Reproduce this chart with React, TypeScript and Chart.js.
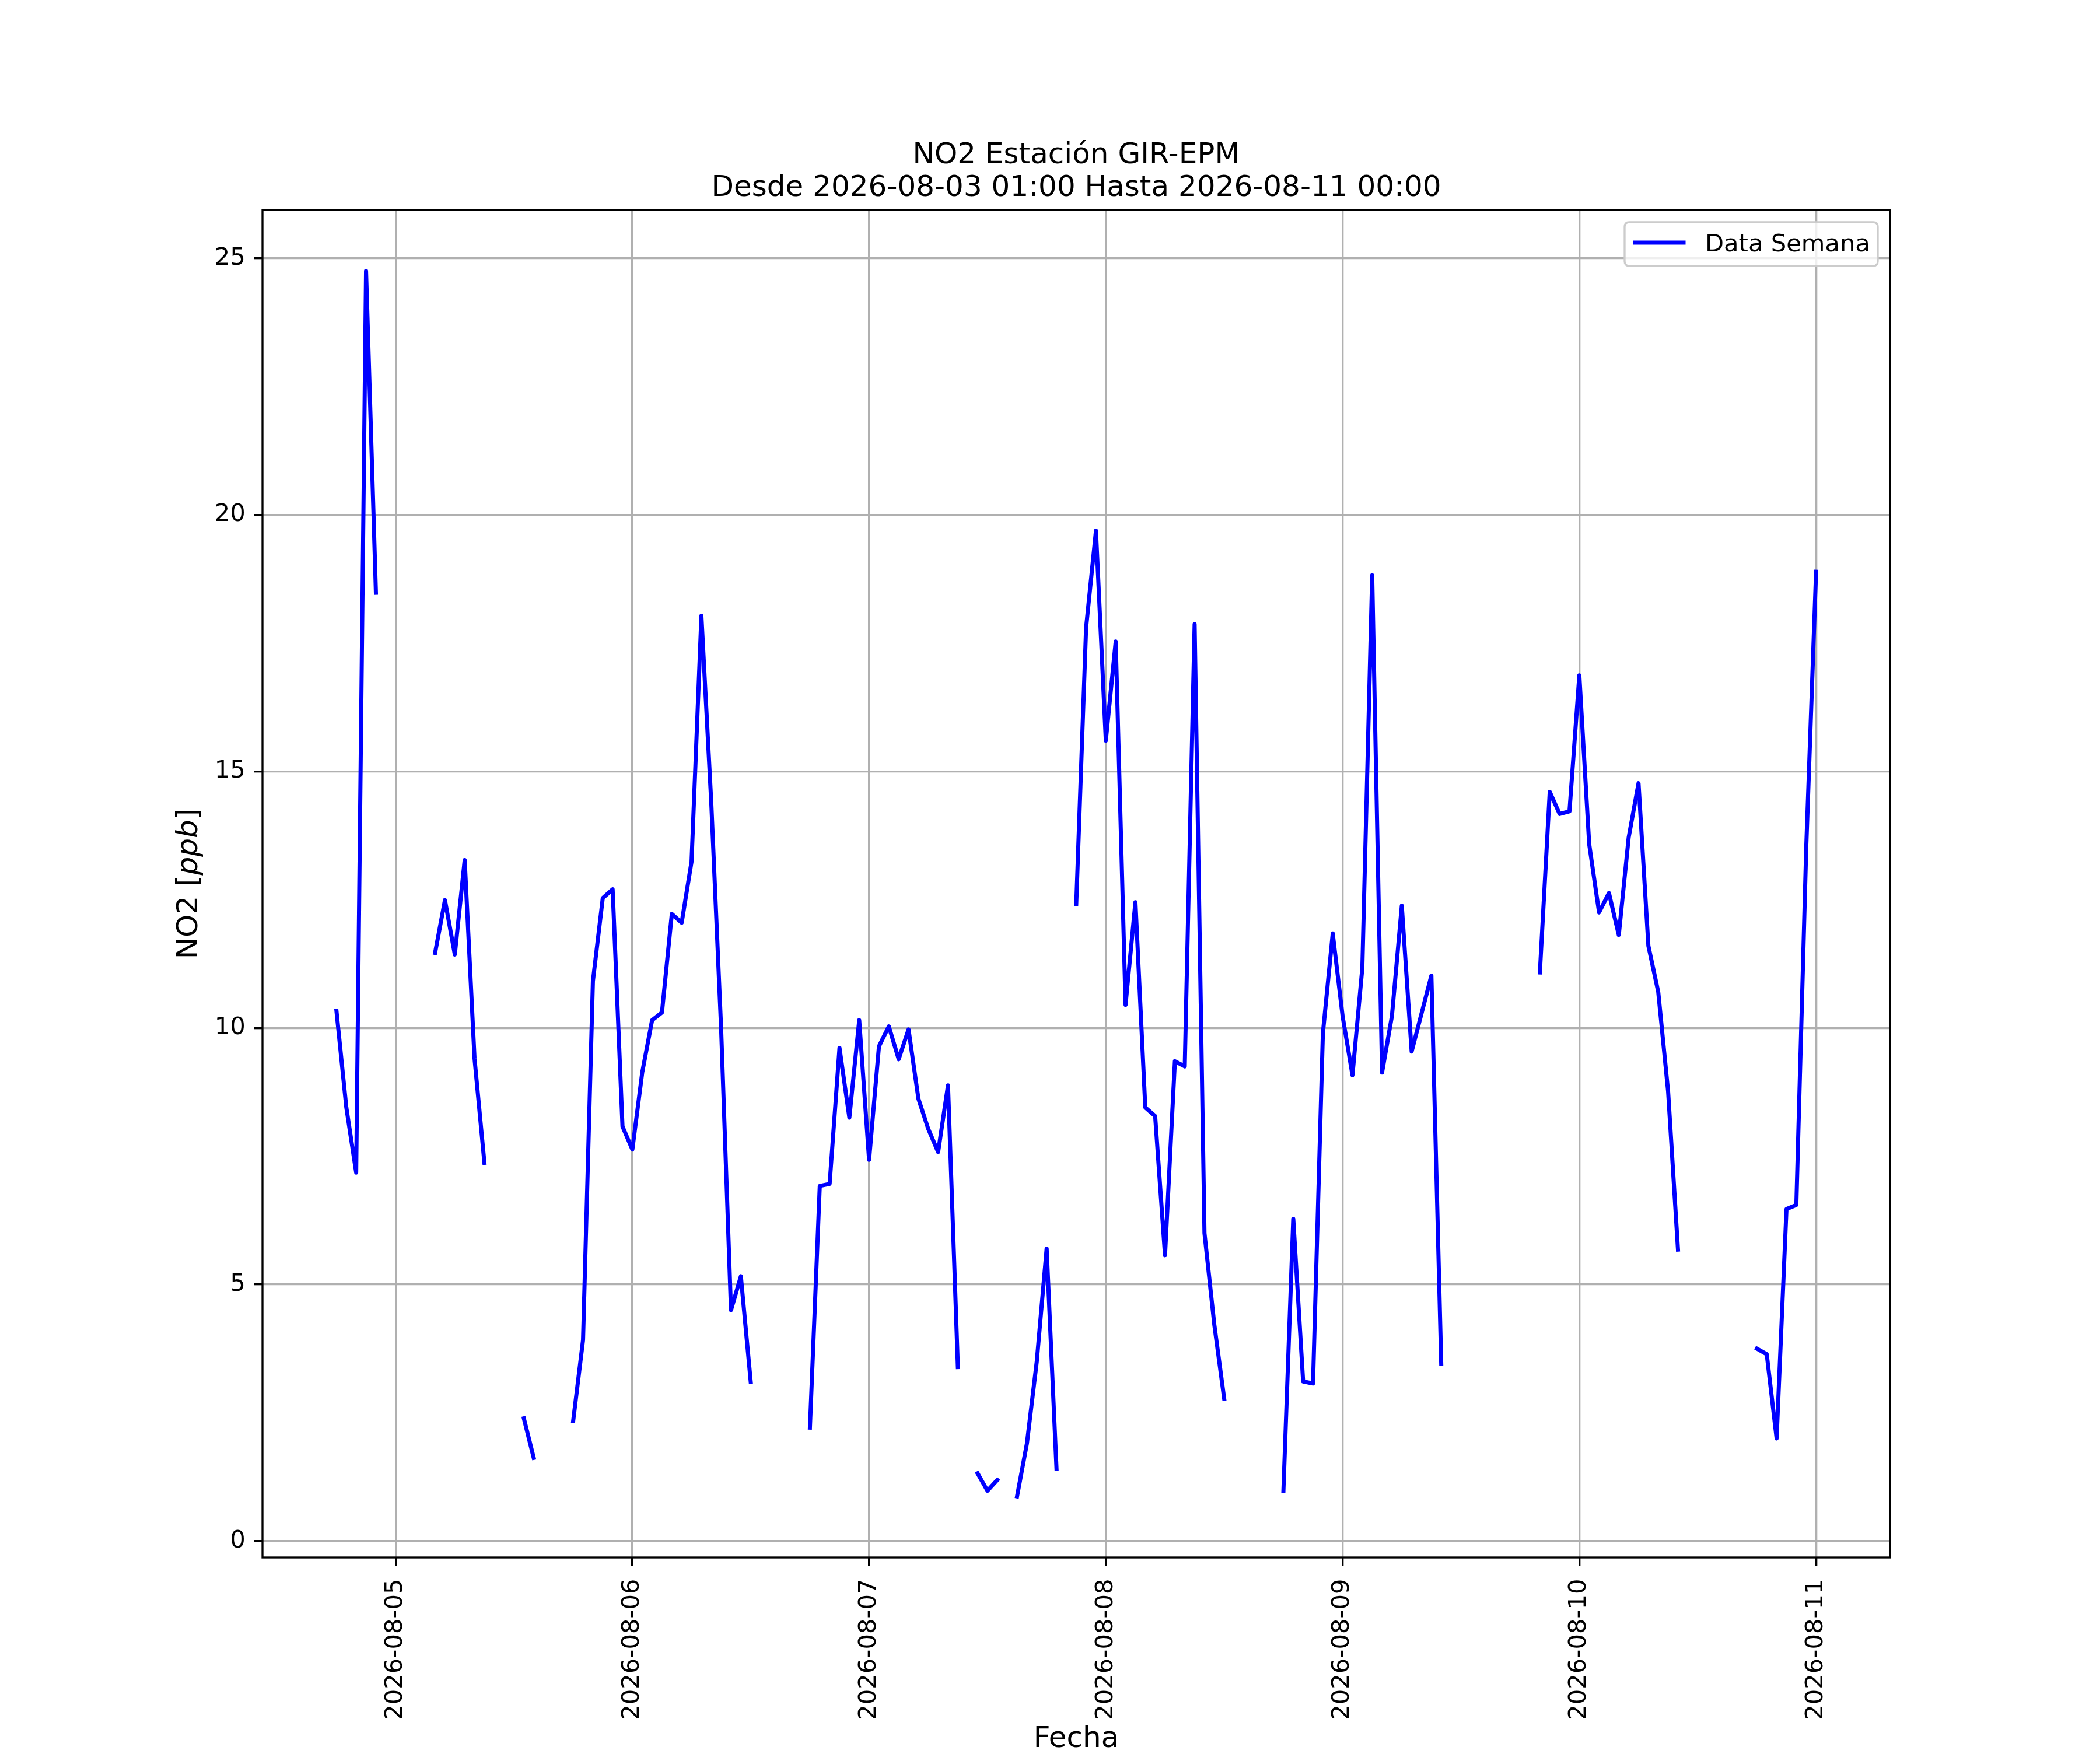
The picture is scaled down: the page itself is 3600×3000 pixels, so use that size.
import React, { useEffect, useRef } from 'react';
import { Chart, registerables } from 'chart.js';

Chart.register(...registerables);

// Hourly NO2 values [ppb] per day (index = hour of day), null = no data
const no2_0804 = [null, null, null, null, null, null, null, null, null, null, null, null, null, null, null, null, null, null, 10.33, 8.45, 7.18, 24.75, 18.48, null];
const no2_0805 = [null, null, null, null, 11.46, 12.49, 11.43, 13.27, 9.4, 7.37, null, null, null, 2.39, 1.62, null, null, null, 2.34, 3.92, 10.91, 12.53, 12.7, 8.08];
const no2_0806 = [7.63, 9.13, 10.15, 10.3, 12.22, 12.05, 13.24, 18.03, 14.39, 9.98, 4.5, 5.16, 3.1, null, null, null, null, null, 2.21, 6.92, 6.96, 9.61, 8.25, 10.15];
const no2_0807 = [7.43, 9.64, 10.03, 9.39, 9.97, 8.62, 8.03, 7.58, 8.88, 3.39, null, 1.32, 0.98, 1.19, null, 0.87, 1.9, 3.5, 5.7, 1.41, null, 12.41, 17.8, 19.69];
const no2_0808 = [15.6, 17.53, 10.45, 12.45, 8.45, 8.28, 5.57, 9.35, 9.25, 17.87, 6.0, 4.21, 2.77, null, null, null, null, null, 0.98, 6.28, 3.11, 3.07, 9.89, 11.84];
const no2_0809 = [10.23, 9.08, 11.17, 18.82, 9.13, 10.23, 12.38, 9.54, 10.28, 11.02, 3.45, null, null, null, null, null, null, null, null, null, 11.08, 14.6, 14.17, 14.22];
const no2_0810 = [16.87, 13.58, 12.25, 12.63, 11.81, 13.71, 14.77, 11.6, 10.7, 8.76, 5.68, null, null, null, null, null, null, null, 3.75, 3.64, 2.0, 6.47, 6.55, 13.5];
const no2_0811 = [18.89];

// Day start offsets in hours since 2026-08-03 00:00
const dayOffsets = [24, 48, 72, 96, 120, 144, 168, 192];
const dayValues = [no2_0804, no2_0805, no2_0806, no2_0807, no2_0808, no2_0809, no2_0810, no2_0811];

// X tick positions (hours since 2026-08-03 00:00) and labels
const xTickHours = [48, 72, 96, 120, 144, 168, 192];
const xTickLabels = ['2026-08-05', '2026-08-06', '2026-08-07', '2026-08-08', '2026-08-09', '2026-08-10', '2026-08-11'];
const yTicks = [0, 5, 10, 15, 20, 25];

const titleLines = ['NO2 Estación GIR-EPM', 'Desde 2026-08-03 01:00 Hasta 2026-08-11 00:00'];
const seriesLabel = 'Data Semana';
const xTitle = 'Fecha';

const FONT = '"DejaVu Sans", sans-serif';
const LW = 3.33;
const SERIES_LW = 7;

const overlayPlugin = {
  id: 'overlay',
  afterDraw(chart: any) {
    const ctx = chart.ctx as CanvasRenderingContext2D;
    const { left, right, top, bottom } = chart.chartArea;
    ctx.save();
    // spines
    ctx.strokeStyle = '#000';
    ctx.lineWidth = LW;
    ctx.lineJoin = 'miter';
    ctx.strokeRect(left, top, right - left, bottom - top);

    // legend box
    const bx0 = right - 455, bx1 = right - 21, by0 = top + 21, by1 = top + 96;
    const r = 8;
    ctx.beginPath();
    ctx.moveTo(bx0 + r, by0);
    ctx.lineTo(bx1 - r, by0);
    ctx.quadraticCurveTo(bx1, by0, bx1, by0 + r);
    ctx.lineTo(bx1, by1 - r);
    ctx.quadraticCurveTo(bx1, by1, bx1 - r, by1);
    ctx.lineTo(bx0 + r, by1);
    ctx.quadraticCurveTo(bx0, by1, bx0, by1 - r);
    ctx.lineTo(bx0, by0 + r);
    ctx.quadraticCurveTo(bx0, by0, bx0 + r, by0);
    ctx.closePath();
    ctx.fillStyle = 'rgba(255,255,255,0.8)';
    ctx.fill();
    ctx.strokeStyle = '#cccccc';
    ctx.lineWidth = LW;
    ctx.stroke();
    // legend handle
    ctx.beginPath();
    ctx.strokeStyle = '#0000ff';
    ctx.lineWidth = SERIES_LW;
    ctx.lineCap = 'square';
    ctx.moveTo(bx0 + 18, top + 56);
    ctx.lineTo(bx0 + 101, top + 56);
    ctx.stroke();
    ctx.fillStyle = '#000';
    ctx.font = `41.67px ${FONT}`;
    ctx.textAlign = 'left';
    ctx.textBaseline = 'alphabetic';
    ctx.fillText(seriesLabel, bx0 + 138, top + 71);

    // title
    const cx = (left + right) / 2;
    ctx.font = `50px ${FONT}`;
    ctx.textAlign = 'center';
    ctx.fillText(titleLines[0], cx, 280);
    ctx.fillText(titleLines[1], cx, 336);

    // x axis title
    ctx.fillText(xTitle, cx, 2995);

    // y axis title: NO2 [ppb] with italic ppb
    const cy = (top + bottom) / 2;
    const parts = [
      { t: 'NO2 [', f: `50px ${FONT}` },
      { t: 'ppb', f: `italic 50px ${FONT}` },
      { t: ']', f: `50px ${FONT}` },
    ];
    let total = 0;
    const widths = parts.map((p) => {
      ctx.font = p.f;
      const w = ctx.measureText(p.t).width;
      total += w;
      return w;
    });
    ctx.translate(338, cy);
    ctx.rotate(-Math.PI / 2);
    ctx.textAlign = 'left';
    let px = -total / 2;
    parts.forEach((p, i) => {
      ctx.font = p.f;
      ctx.fillText(p.t, px, 0);
      px += widths[i];
    });
    ctx.restore();
  },
};

export default function App() {
  const ref = useRef<HTMLCanvasElement | null>(null);

  useEffect(() => {
    document.body.style.margin = '0';
    const canvas = ref.current;
    if (!canvas) return;
    const points: { x: number; y: number | null }[] = [];
    dayValues.forEach((vals, d) => {
      vals.forEach((v, h) => points.push({ x: dayOffsets[d] + h, y: v }));
    });

    const chart = new Chart(canvas, {
      type: 'line',
      data: {
        datasets: [
          {
            label: seriesLabel,
            data: points as any,
            borderColor: '#0000ff',
            backgroundColor: '#0000ff',
            borderWidth: SERIES_LW,
            pointRadius: 0,
            pointHoverRadius: 0,
            spanGaps: false,
            tension: 0,
            borderCapStyle: 'square',
            borderJoinStyle: 'round',
            fill: false,
          },
        ],
      },
      options: {
        animation: false,
        responsive: false,
        devicePixelRatio: 1,
        events: [],
        layout: { padding: { top: 360, right: 360, bottom: 0, left: 0 } },
        plugins: {
          legend: { display: false },
          title: { display: false },
          tooltip: { enabled: false },
        },
        scales: {
          x: {
            type: 'linear',
            min: 34.5,
            max: 199.5,
            afterBuildTicks: (s: any) => {
              s.ticks = xTickHours.map((v) => ({ value: v }));
            },
            afterFit: (s: any) => {
              s.height = 330;
            },
            ticks: {
              autoSkip: false,
              minRotation: 90,
              maxRotation: 90,
              padding: 22,
              color: '#000',
              font: { family: FONT, size: 41.67 },
              callback: (v: any) => {
                const i = xTickHours.indexOf(Number(v));
                return i >= 0 ? xTickLabels[i] : '';
              },
            },
            grid: {
              color: '#b0b0b0',
              lineWidth: LW,
              drawTicks: true,
              tickLength: 14.58,
              tickColor: '#000',
              tickWidth: LW,
            },
            border: { display: false },
          },
          y: {
            type: 'linear',
            min: -0.32,
            max: 25.94,
            afterBuildTicks: (s: any) => {
              s.ticks = yTicks.map((v) => ({ value: v }));
            },
            afterFit: (s: any) => {
              s.width = 450;
            },
            ticks: {
              padding: 14.58,
              color: '#000',
              font: { family: FONT, size: 41.67 },
              callback: (v: any) => String(v),
            },
            grid: {
              color: '#b0b0b0',
              lineWidth: LW,
              drawTicks: true,
              tickLength: 14.58,
              tickColor: '#000',
              tickWidth: LW,
            },
            border: { display: false },
          },
        },
      },
      plugins: [overlayPlugin],
    });
    return () => chart.destroy();
  }, []);

  return (
    <div style={{ position: 'absolute', left: 0, top: 0, width: 3600, height: 3000, background: '#fff' }}>
      <canvas ref={ref} width={3600} height={3000} style={{ width: 3600, height: 3000, display: 'block' }} />
    </div>
  );
}
